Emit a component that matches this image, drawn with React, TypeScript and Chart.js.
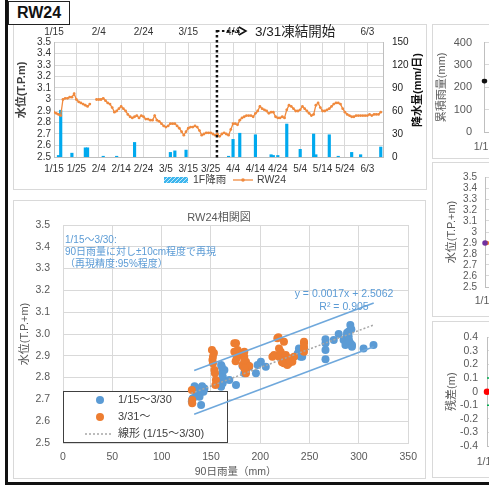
import React, { useEffect, useRef } from 'react';
import { Chart, registerables } from 'chart.js';

Chart.register(...registerables);

const FONT = "'Liberation Sans', 'Noto Sans CJK JP', 'Noto Sans', sans-serif";
Chart.defaults.font.family = FONT;

// ---------------- data ----------------
const dateTicks = ['1/15', '1/25', '2/4', '2/14', '2/24', '3/5', '3/15', '3/25', '4/4', '4/14', '4/24', '5/4', '5/14', '5/24', '6/3'];
const hiddenTopTicks = ['4/24', '5/14'];
const dayCount = 147;

// daily water level of RW24 (T.P.m), day 0 = 1/15
const waterLevel: (number | null)[] = [
  2.89, 2.88, 2.87, 2.86, 3.0, 3.01, 3.01, 3.02, 3.02, 3.05, 3.0, 2.98, 2.97, 2.96, 2.95, 2.94, 2.96, null, null, 3.0,
  3.0, 3.0, 3.01, 2.99, 2.97, 2.96, 2.93, 2.89, 2.9, 2.92,
  2.94, 2.92, 2.9, 2.87, 2.85, 2.84, 2.85, 2.86, 2.84, 2.86,
  2.85, 2.83, 2.83, 2.82, 2.82, 2.86, 2.82, 2.81, 2.79, 2.77,
  2.76, 2.77, 2.79, 2.79, 2.79, 2.77, 2.75, 2.72, 2.69, 2.72,
  2.75, 2.76, 2.76, 2.77, 2.76, 2.73, 2.69, 2.7, 2.71, 2.71,
  2.71, 2.7, 2.69, 2.7, 2.68, 2.7, 2.71, 2.7, 2.69, 2.74,
  2.79, 2.79, 2.78, 2.82, 2.84, 2.85, 2.86, 2.86, 2.86, 2.85,
  2.88, 2.9, 2.94, 2.92, 2.91, 2.9, 2.88, 2.89, 2.89, 2.85,
  2.84, 2.84, 2.85, 2.84, 2.91, 2.95, 2.94, 2.92, 2.9, 2.9,
  2.91, 2.94, 2.92, 2.9, 2.88, 2.86, 2.87, 2.95, 2.97, 2.93,
  2.9, 2.9, 2.91, 2.92, 2.94, 2.96, 2.97, 2.97, 2.96, 2.92,
  2.89, 2.87, 2.86, 2.85, 2.85, 2.86, 2.86, 2.86, 2.86, 2.86,
  2.86, 2.87, 2.86, 2.87, 2.87, 2.87, 2.89,
];

// daily rainfall at 1F (mm/day)
const rainDays = [2, 3, 8, 14, 15, 22, 28, 36, 52, 54, 59, 78, 80, 83, 90, 97, 98, 100, 104, 110, 116, 117, 123, 127, 133, 137, 146];
const rainMm = [2, 61, 5, 12, 12, 1, 1, 19, 6, 8, 9, 1, 23, 31, 29, 3, 2, 2, 43, 10, 30, 3, 29, 1, 6, 3, 13];

const freezeDay = 72.8;
const freezeLabel = '3/31凍結開始';
const levelTitleTop = '水位(T.P.m)';
const rainTitleTop = '降水量(mm/日)';
const levelSeriesName = 'RW24';
const rainSeriesName = '1F降雨';

// scatter: [90-day rainfall (mm), water level (T.P.+m)]
const periodA: [number, number][] = [
  [130.6, 2.69], [131.7, 2.705], [135, 2.72], [133.4, 2.76], [138.4, 2.75], [140, 2.735], [138.4, 2.712], [140, 2.674],
  [143.4, 2.75], [142.4, 2.735], [131, 2.7], [136, 2.745], [141, 2.76],
  [160.3, 2.858], [161.3, 2.82], [161.9, 2.789], [160.3, 2.758], [161.9, 2.835], [162, 2.804], [161.9, 2.774],
  [163.6, 2.835], [168.6, 2.789], [175.4, 2.766], [161, 2.85],
  [182, 2.853], [183.8, 2.866], [187.1, 2.858], [183.8, 2.82], [188.8, 2.85], [195.6, 2.82], [197.3, 2.858],
  [200.6, 2.873], [205.6, 2.85],
  [222.4, 2.889], [237.5, 2.904], [239.2, 2.919], [239.2, 2.934], [240.9, 2.896], [242.5, 2.896], [238, 2.91],
  [266.1, 2.976], [266.1, 2.957], [266.1, 2.927], [266.1, 2.884], [274.5, 2.972], [279.5, 3.0], [284.5, 2.972],
  [287.9, 2.995], [287.9, 2.957], [289.6, 3.011], [291.3, 2.957], [292.9, 2.942], [286.3, 2.95], [291.3, 3.041],
  [292.3, 3.022], [289.6, 2.988], [293, 2.95], [304.7, 2.934], [314.8, 2.95], [288, 3.006], [290, 2.97],
];
const periodB: [number, number][] = [
  [130.6, 2.743], [131, 2.697], [131, 2.682],
  [151, 2.927], [151.5, 2.881], [152, 2.896], [152, 2.866], [153.5, 2.835], [155, 2.789], [154.5, 2.766], [153, 2.913], [154, 2.82],
  [173.7, 2.957], [173.7, 2.919], [175.4, 2.957], [177, 2.927], [178.7, 2.904], [182, 2.912], [183.8, 2.896], [185.5, 2.873],
  [183.8, 2.85], [185.5, 2.835], [185.5, 2.82], [182, 2.858], [188.8, 2.853], [183.8, 2.919], [183.8, 2.881], [183.8, 2.843],
  [176, 2.89], [175, 2.875],
  [212.3, 2.896], [214, 2.904], [217.3, 2.98], [219, 2.934], [219, 2.896], [220.7, 2.919], [224, 2.965], [225.8, 2.904],
  [225.8, 2.881], [227.4, 2.858], [229.1, 2.866], [232.5, 2.873], [234.2, 2.896], [229.1, 2.889], [224, 2.866], [218.4, 2.985],
  [222, 2.87], [230, 2.88],
  [244.3, 2.957], [244.3, 2.934], [244.3, 2.919], [244.3, 2.965], [244.3, 2.942],
];
const periodAName = '1/15～3/30';
const periodBName = '3/31～';
const trendName = '線形 (1/15～3/30)';
const trendSlope = 0.0017;
const trendIntercept = 2.5062;
const trendR2 = 0.905;
const bandWidth = 0.1;
const trendXRange = [130, 315];
const bandXRange = [133, 315];
const scatterTitle = 'RW24相関図';
const noteLines = ['1/15～3/30:', '90日雨量に対し±10cm程度で再現', '（再現精度:95%程度）'];

// side panels (cropped in the reference)
const cumulativeRain = [228, 228];
const sideLevelObs = [2.9, 2.9];
const sideLevelCalc = [2.9];
const residual = [0];
const residualLimit = 0.1;

// ---------------- styles ----------------
const GRID = '#D9D9D9';
const BLUE = '#5B9BD5';
const ORANGE = '#ED7D31';
const RAIN = '#00A9EE';
const LEVEL = '#F08A3E';
const TXT = '#595959';

const fmtShort = (v: any) => String(Math.round(Number(v) * 10) / 10);
const dateCb = (hidden: string[] = []) => (v: any) => {
  const n = Number(v);
  const i = Math.round(n / 10);
  if (Math.abs(n - i * 10) > 1e-6) return '';
  const lab = dateTicks[i] ?? '';
  return hidden.includes(lab) ? '' : lab;
};

function rotatedText(ctx: CanvasRenderingContext2D, text: string, x: number, y: number) {
  ctx.save();
  ctx.translate(x, y);
  ctx.rotate(-Math.PI / 2);
  ctx.textAlign = 'center';
  ctx.textBaseline = 'middle';
  ctx.fillText(text, 0, 0);
  ctx.restore();
}

const topDecor = {
  id: 'topDecor',
  afterDraw(chart: any) {
    const { ctx, chartArea: a, scales } = chart;
    const xf = scales.x.getPixelForValue(freezeDay);
    ctx.save();
    ctx.strokeStyle = '#111';
    ctx.fillStyle = '#111';
    ctx.lineWidth = 2.5;
    ctx.setLineDash([2.5, 2.5]);
    ctx.beginPath();
    ctx.moveTo(xf, a.top - 12);
    ctx.lineTo(xf, a.bottom + 3);
    ctx.stroke();
    const ay = a.top - 11;
    ctx.lineWidth = 2;
    ctx.beginPath();
    ctx.moveTo(xf, ay);
    ctx.lineTo(xf + 24, ay);
    ctx.stroke();
    ctx.setLineDash([]);
    ctx.lineWidth = 1.6;
    ctx.beginPath();
    ctx.moveTo(xf + 22, ay - 4);
    ctx.lineTo(xf + 29, ay);
    ctx.lineTo(xf + 22, ay + 4);
    ctx.stroke();
    ctx.fillStyle = '#222';
    ctx.font = `13.5px ${FONT}`;
    ctx.textAlign = 'left';
    ctx.textBaseline = 'middle';
    ctx.fillText(freezeLabel, xf + 38, ay + 1);

    // axis titles (both read bottom-to-top)
    ctx.font = `bold 11px ${FONT}`;
    ctx.fillStyle = '#404040';
    rotatedText(ctx, levelTitleTop, 9, a.top + 48);
    ctx.fillStyle = '#111';
    rotatedText(ctx, rainTitleTop, chart.width - 8, a.top + 48);

    // legend
    const ly = a.bottom + 23;
    const lx = a.left + 110;
    ctx.save();
    ctx.beginPath();
    ctx.rect(lx, ly - 3, 24, 6);
    ctx.clip();
    ctx.fillStyle = '#3DB6EE';
    ctx.fillRect(lx, ly - 3, 24, 6);
    ctx.strokeStyle = '#C5E9FA';
    ctx.lineWidth = 1;
    for (let k = -6; k < 28; k += 4) {
      ctx.beginPath();
      ctx.moveTo(lx + k, ly + 3);
      ctx.lineTo(lx + k + 6, ly - 3);
      ctx.stroke();
    }
    ctx.restore();
    ctx.font = `10.5px ${FONT}`;
    ctx.fillStyle = '#404040';
    ctx.textAlign = 'left';
    ctx.textBaseline = 'middle';
    ctx.fillText(rainSeriesName, lx + 29, ly);
    ctx.strokeStyle = LEVEL;
    ctx.lineWidth = 1.3;
    ctx.beginPath();
    ctx.moveTo(a.left + 179, ly);
    ctx.lineTo(a.left + 199, ly);
    ctx.stroke();
    ctx.fillStyle = LEVEL;
    ctx.beginPath();
    ctx.arc(a.left + 189, ly, 1.8, 0, Math.PI * 2);
    ctx.fill();
    ctx.fillStyle = '#404040';
    ctx.fillText(levelSeriesName, a.left + 203, ly);
    ctx.restore();
  },
};

const scatterDecor = {
  id: 'scatterDecor',
  beforeDatasetsDraw(chart: any) {
    const { ctx, chartArea: a } = chart;
    ctx.save();
    const bx = a.left, by = a.bottom - 52, bw = 165, bh = 52;
    ctx.fillStyle = '#fff';
    ctx.fillRect(bx, by, bw, bh);
    ctx.strokeStyle = '#404040';
    ctx.lineWidth = 1;
    ctx.strokeRect(bx + 0.5, by + 0.5, bw - 1, bh - 1);
    ctx.font = `11px ${FONT}`;
    ctx.textAlign = 'left';
    ctx.textBaseline = 'middle';
    ctx.fillStyle = BLUE;
    ctx.beginPath();
    ctx.arc(a.left + 37, a.bottom - 43, 4, 0, Math.PI * 2);
    ctx.fill();
    ctx.fillStyle = ORANGE;
    ctx.beginPath();
    ctx.arc(a.left + 37, a.bottom - 26, 4, 0, Math.PI * 2);
    ctx.fill();
    ctx.strokeStyle = '#A6A6A6';
    ctx.lineWidth = 1.5;
    ctx.setLineDash([2, 2]);
    ctx.beginPath();
    ctx.moveTo(a.left + 22, a.bottom - 9);
    ctx.lineTo(a.left + 50, a.bottom - 9);
    ctx.stroke();
    ctx.setLineDash([]);
    ctx.fillStyle = '#404040';
    ctx.fillText(periodAName, a.left + 55, a.bottom - 43);
    ctx.fillText(periodBName, a.left + 55, a.bottom - 26);
    ctx.fillText(trendName, a.left + 55, a.bottom - 9);
    ctx.restore();
  },
  afterDraw(chart: any) {
    const { ctx, chartArea: a } = chart;
    ctx.save();
    ctx.fillStyle = TXT;
    ctx.font = `11px ${FONT}`;
    ctx.textAlign = 'center';
    ctx.textBaseline = 'middle';
    ctx.fillText(scatterTitle, 206, 18);
    ctx.fillStyle = BLUE;
    ctx.font = `10px ${FONT}`;
    ctx.textAlign = 'left';
    noteLines.forEach((t, i) => ctx.fillText(t, a.left + 2, a.top + 15 + i * 12));
    ctx.font = `10.5px ${FONT}`;
    ctx.textAlign = 'center';
    ctx.fillText(`y = ${trendSlope}x + ${trendIntercept}`, a.left + 281, a.top + 69);
    ctx.fillText(`R² = ${trendR2}`, a.left + 281, a.top + 82);
    ctx.restore();
  },
};

const bandLine = (x0: number, x1: number, off: number) => [
  { x: x0, y: trendSlope * x0 + trendIntercept + off },
  { x: x1, y: trendSlope * x1 + trendIntercept + off },
];

function sideConfig(o: any) {
  return {
    type: 'line',
    data: { datasets: o.datasets },
    options: {
      responsive: false,
      animation: false,
      layout: { padding: { top: o.padTop, right: 0, bottom: 0, left: 0 } },
      plugins: { legend: { display: false }, tooltip: { enabled: false } },
      scales: {
        x: {
          type: 'linear', min: 0, max: dayCount, offset: false,
          ticks: { stepSize: 10, maxTicksLimit: 100, padding: o.xPad, color: TXT, font: { size: 10.5 }, maxRotation: 0, callback: dateCb() },
          grid: { display: false, drawTicks: false },
          border: { color: '#BFBFBF' },
          afterFit: (s: any) => { s.height = o.xHeight; },
        },
        y: {
          min: o.min, max: o.max,
          ticks: { stepSize: o.step, maxTicksLimit: 100, autoSkip: false, padding: o.yPad, color: TXT, font: { size: o.fontSize }, callback: o.fmt },
          grid: { color: GRID, drawTicks: false },
          border: { color: '#BFBFBF' },
          title: { display: true, text: o.title, color: TXT, font: { size: 11 }, padding: { top: o.titlePad, bottom: 0 } },
          afterFit: (s: any) => { s.width = o.yWidth; },
        },
      },
    },
  };
}

export default function App() {
  const topRef = useRef<HTMLCanvasElement>(null);
  const scatRef = useRef<HTMLCanvasElement>(null);
  const s1Ref = useRef<HTMLCanvasElement>(null);
  const s2Ref = useRef<HTMLCanvasElement>(null);
  const s3Ref = useRef<HTMLCanvasElement>(null);

  useEffect(() => {
    const charts: Chart[] = [];

    charts.push(new Chart(topRef.current as HTMLCanvasElement, {
      type: 'line',
      data: {
        datasets: [
          {
            type: 'line', label: levelSeriesName, xAxisID: 'x', yAxisID: 'y',
            data: waterLevel.map((v, i) => ({ x: i, y: v })),
            borderColor: LEVEL, backgroundColor: LEVEL, borderWidth: 1.3,
            pointRadius: 1.4, pointBorderWidth: 0, spanGaps: false, order: 0,
          },
          {
            type: 'bar', label: rainSeriesName, xAxisID: 'x', yAxisID: 'y1',
            data: rainDays.map((d, i) => ({ x: d, y: rainMm[i] })),
            backgroundColor: RAIN, barThickness: 2.5, order: 1,
          },
        ],
      } as any,
      options: {
        responsive: false,
        animation: false,
        layout: { padding: 0 },
        plugins: { legend: { display: false }, tooltip: { enabled: false } },
        scales: {
          x: {
            type: 'linear', position: 'bottom', min: 0, max: dayCount, offset: false,
            ticks: { stepSize: 10, maxTicksLimit: 100, includeBounds: false, autoSkip: false, maxRotation: 0, padding: 6, color: '#333', font: { size: 10 }, callback: dateCb() },
            grid: { color: GRID, drawTicks: false, offset: false },
            border: { color: '#BFBFBF' },
            afterFit: (s: any) => { s.height = 32; },
          },
          x2: {
            type: 'linear', position: 'top', min: 0, max: dayCount, offset: false, display: true,
            ticks: { stepSize: 20, maxTicksLimit: 100, includeBounds: false, autoSkip: false, maxRotation: 0, padding: 4, color: '#333', font: { size: 10 }, callback: dateCb(hiddenTopTicks) },
            grid: { display: false, drawTicks: false },
            border: { display: false },
            afterFit: (s: any) => { s.height = 18; },
          },
          y: {
            position: 'left', min: 2.5, max: 3.5,
            ticks: { stepSize: 0.1, maxTicksLimit: 100, autoSkip: false, padding: 3, color: '#333', font: { size: 10 }, callback: fmtShort },
            grid: { color: GRID, drawTicks: false },
            border: { color: '#BFBFBF' },
            afterFit: (s: any) => { s.width = 41; },
          },
          y1: {
            position: 'right', min: 0, max: 150,
            ticks: { stepSize: 30, maxTicksLimit: 100, autoSkip: false, padding: 9, color: '#222', font: { size: 10 } },
            grid: { display: false, drawTicks: false },
            border: { color: '#BFBFBF' },
            afterFit: (s: any) => { s.width = 43; },
          },
        },
      } as any,
      plugins: [topDecor],
    }));

    charts.push(new Chart(scatRef.current as HTMLCanvasElement, {
      type: 'scatter',
      data: {
        datasets: [
          { type: 'line', label: '+10cm', data: bandLine(bandXRange[0], bandXRange[1], bandWidth), borderColor: '#6FA8DC', borderWidth: 1.6, pointRadius: 0, order: 0 },
          { type: 'line', label: '-10cm', data: bandLine(bandXRange[0], bandXRange[1], -bandWidth), borderColor: '#6FA8DC', borderWidth: 1.6, pointRadius: 0, order: 0 },
          { type: 'line', label: trendName, data: bandLine(trendXRange[0], trendXRange[1], 0), borderColor: '#A6A6A6', borderDash: [2, 2], borderWidth: 1.5, pointRadius: 0, order: 0 },
          { type: 'scatter', label: periodBName, data: periodB.map(([x, y]) => ({ x, y })), backgroundColor: ORANGE, borderWidth: 0, pointRadius: 4, order: 1 },
          { type: 'scatter', label: periodAName, data: periodA.map(([x, y]) => ({ x, y })), backgroundColor: BLUE, borderWidth: 0, pointRadius: 4, order: 2 },
        ],
      } as any,
      options: {
        responsive: false,
        animation: false,
        layout: { padding: { top: 25, right: 15, bottom: 0, left: 0 } },
        plugins: { legend: { display: false }, tooltip: { enabled: false } },
        scales: {
          x: {
            type: 'linear', min: 0, max: 350,
            ticks: { stepSize: 50, maxTicksLimit: 100, padding: 8, color: TXT, font: { size: 10.5 }, maxRotation: 0 },
            grid: { color: GRID, drawTicks: false },
            border: { color: GRID },
            title: { display: true, text: '90日雨量（mm）', color: TXT, font: { size: 10.5 }, padding: 0 },
            afterFit: (s: any) => { s.height = 35; },
          },
          y: {
            min: 2.5, max: 3.5,
            ticks: { stepSize: 0.1, maxTicksLimit: 100, autoSkip: false, padding: 13, color: TXT, font: { size: 10.5 }, callback: (v: any) => Number(v).toFixed(1) },
            grid: { color: GRID, drawTicks: false },
            border: { color: GRID },
            title: { display: true, text: '水位(T.P.+m)', color: TXT, font: { size: 11 }, padding: { top: 5, bottom: 0 } },
            afterFit: (s: any) => { s.width = 50; },
          },
        },
      } as any,
      plugins: [scatterDecor],
    }));

    charts.push(new Chart(s1Ref.current as HTMLCanvasElement, sideConfig({
      datasets: [
        { data: cumulativeRain.map((v, i) => ({ x: i, y: v })), borderColor: '#111', backgroundColor: '#111', borderDash: [2, 2], borderWidth: 1.5, pointRadius: 1.6, clip: false },
      ],
      min: 0, max: 400, step: 100, fmt: (v: any) => String(v), title: '累積雨量(mm)',
      padTop: 12, xHeight: 26, yWidth: 51, yPad: 12, titlePad: 2.4, xPad: 9, fontSize: 11,
    }) as any));

    charts.push(new Chart(s2Ref.current as HTMLCanvasElement, sideConfig({
      datasets: [
        { data: sideLevelCalc.map((v, i) => ({ x: i, y: v })), borderColor: '#7030A0', backgroundColor: '#7030A0', borderWidth: 1.5, pointRadius: 2, clip: false },
        { data: sideLevelObs.map((v, i) => ({ x: i + 1, y: v })), borderColor: ORANGE, backgroundColor: ORANGE, borderWidth: 1.5, pointRadius: 1.5, clip: false },
      ],
      min: 2.5, max: 3.5, step: 0.1, fmt: fmtShort, title: '水位(T.P.+m)',
      padTop: 12, xHeight: 29, yWidth: 52, yPad: 8, titlePad: 12.4, xPad: 8, fontSize: 10,
    }) as any));

    charts.push(new Chart(s3Ref.current as HTMLCanvasElement, sideConfig({
      datasets: [
        { data: residual.map((v, i) => ({ x: i, y: v })), borderColor: '#FF0000', backgroundColor: '#FF0000', borderWidth: 1.5, pointRadius: 2.5, clip: false },
        { data: [{ x: 0, y: residualLimit }, { x: dayCount, y: residualLimit }], borderColor: '#00B050', borderDash: [4, 3], borderWidth: 1.5, pointRadius: 0 },
        { data: [{ x: 0, y: -residualLimit }, { x: dayCount, y: -residualLimit }], borderColor: '#00B050', borderDash: [4, 3], borderWidth: 1.5, pointRadius: 0 },
      ],
      min: -0.4, max: 0.4, step: 0.1, fmt: fmtShort, title: '残差(m)',
      padTop: 14, xHeight: 31, yWidth: 54, yPad: 9, titlePad: 12.4, xPad: 10, fontSize: 10.5,
    }) as any));

    return () => charts.forEach((c) => c.destroy());
  }, []);

  const frame = (left: number, top: number, width: number, height: number): React.CSSProperties => ({
    position: 'absolute', left, top, width, height, border: `1px solid ${GRID}`, boxSizing: 'border-box',
  });
  const abs = (left: number, top: number): React.CSSProperties => ({ position: 'absolute', left, top });

  return (
    <div style={{ position: 'fixed', left: 0, top: 0, width: 489, height: 485, overflow: 'hidden', background: '#fff', fontFamily: FONT }}>
      <div style={frame(13, 24, 414, 166)} />
      <div style={frame(13, 200, 413, 279)} />
      <div style={frame(432, 24, 120, 135)} />
      <div style={frame(432, 162, 120, 155)} />
      <div style={frame(432, 321, 120, 157)} />
      <canvas ref={topRef} width={413} height={165} style={abs(13, 24)} />
      <canvas ref={scatRef} width={412} height={278} style={abs(13, 200)} />
      <canvas ref={s1Ref} width={200} height={134} style={abs(433, 24)} />
      <canvas ref={s2Ref} width={200} height={153} style={abs(433, 163)} />
      <canvas ref={s3Ref} width={200} height={155} style={abs(433, 322)} />
      <div style={{
        position: 'absolute', left: 8, top: 1, width: 62, height: 24, border: '1.5px solid #222', boxSizing: 'border-box',
        display: 'flex', alignItems: 'center', justifyContent: 'center', fontWeight: 'bold', fontSize: 16, color: '#111', background: '#fff',
        fontFamily: "'Liberation Sans', Arial, sans-serif",
      }}>RW24</div>
      <div style={{ position: 'absolute', left: 5, top: 0, width: 2.5, height: 485, background: '#111' }} />
      <div style={{ position: 'absolute', left: 5, top: 482, width: 484, height: 3, background: '#111' }} />
    </div>
  );
}
